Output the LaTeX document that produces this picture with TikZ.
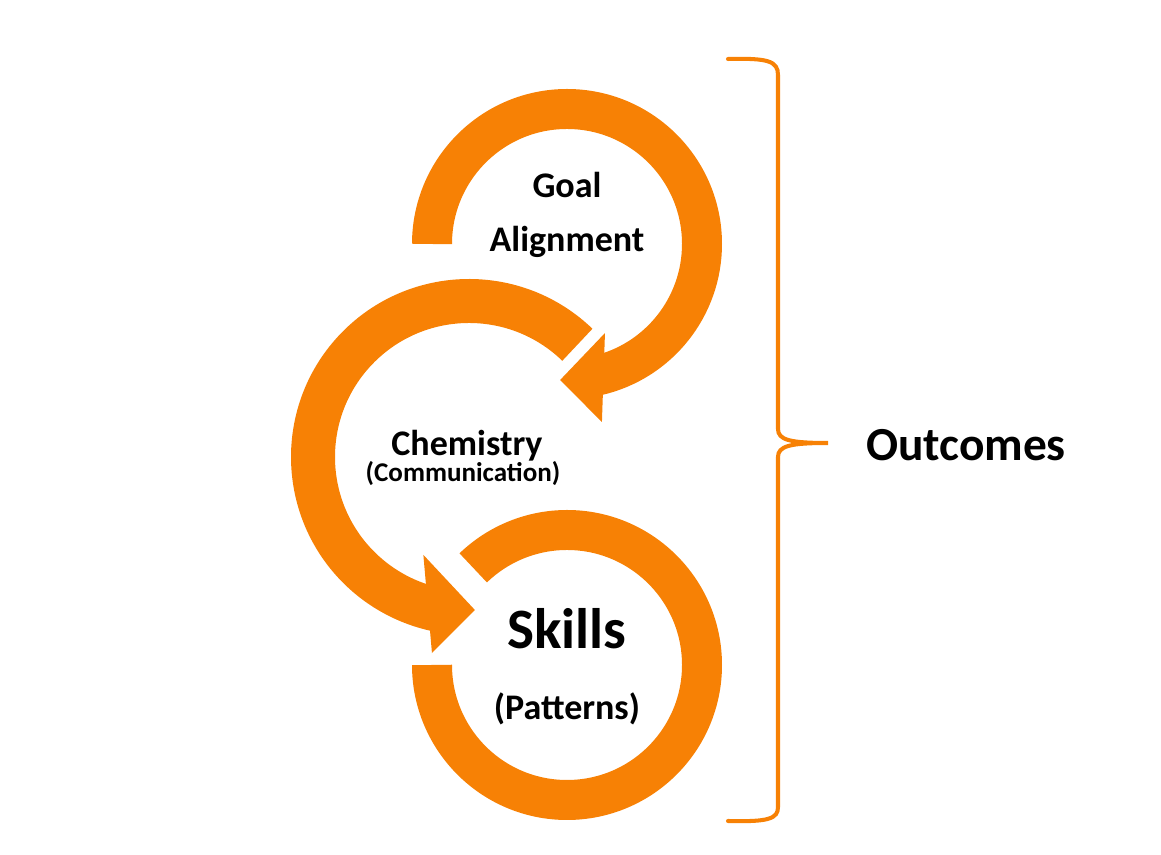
\documentclass[tikz,border=0pt]{standalone}
\usepackage{fontspec}
\setsansfont{Carlito}
\definecolor{cycorange}{RGB}{247,129,5}

\begin{document}
\begin{tikzpicture}[
      x=0.02cm, y=0.02cm,
      band/.style={draw=cycorange, line width=0.8cm},
      wideband/.style={draw=cycorange, line width=0.88cm},
      headfill/.style={fill=cycorange},
      steplbl/.style={font=\sffamily\bfseries\fontsize{20.5pt}{24pt}\selectfont,
                      text=black, anchor=base, inner sep=0pt},
      notelbl/.style={font=\sffamily\bfseries\fontsize{15.4pt}{18pt}\selectfont,
                      text=black, anchor=base, inner sep=0pt},
      keylbl/.style={font=\sffamily\bfseries\fontsize{32.5pt}{36pt}\selectfont,
                     text=black, anchor=base, inner sep=0pt},
      sidelbl/.style={font=\sffamily\bfseries\fontsize{27pt}{30pt}\selectfont,
                      text=black, anchor=base, inner sep=0pt},
      brace/.style={draw=cycorange, line width=2.3pt, line cap=round},
    ]
    \useasboundingbox (0,0) rectangle (1161,855);

    % centres of the three loops
    \coordinate (goalc)  at (567,611);
    \coordinate (chemc)  at (469,398);
    \coordinate (skillc) at (567,190);

    % loops
    \draw[band] ([shift={(180:135)}]goalc)
      arc[start angle=180, end angle=-77, radius=135];
    \fill[headfill] ([shift={(-66.9:96.8)}]goalc) -- ([shift={(-92.9:136.2)}]goalc)
      -- ([shift={(-78.9:181.4)}]goalc) -- cycle;

    \draw[wideband] ([shift={(46:156)}]chemc)
      arc[start angle=46, end angle=258, radius=156];
    \fill[headfill] ([shift={(-115:108)}]chemc) -- ([shift={(-87.8:153.1)}]chemc)
      -- ([shift={(-100.7:199.5)}]chemc) -- cycle;

    \draw[band] ([shift={(180:135)}]skillc)
      arc[start angle=180, end angle=494, radius=135];

    % texts
    \node[steplbl] (goal)     at (567,657) {Goal};
    \node[steplbl] (align)    at (567,603) {Alignment};
    \node[steplbl] (chem)     at (467,399) {Chemistry};
    \node[notelbl] (comm)     at (463,373) {(Communication)};
    \node[keylbl]  (skills)   at (567,206) {Skills};
    \node[steplbl] (patterns) at (567,135) {(Patterns)};
    \node[sidelbl] (outcomes) at (966,394) {Outcomes};

    % brace
    \coordinate (bracetip) at (828,412);
    \draw[brace] (728,796) .. controls (768,797) and (778,794) .. (778,780)
      -- (778,426) .. controls (778,415) and (790,412) .. (bracetip)
      .. controls (790,412) and (778,409) .. (778,398)
      -- (778,48) .. controls (778,36) and (768,33) .. (728,34);
  \end{tikzpicture}
\end{document}
